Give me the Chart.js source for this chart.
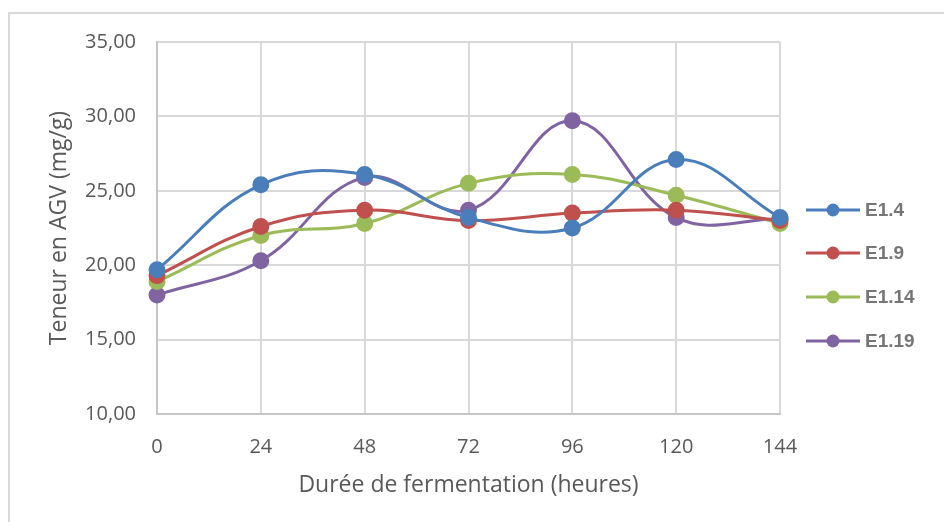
<!DOCTYPE html>
<html>
<head>
<meta charset="utf-8">
<script src="https://cdn.jsdelivr.net/npm/chart.js@4"></script>
<style>
html,body{margin:0;padding:0;background:#fff;overflow:hidden;}
#wrap{position:relative;width:944px;height:522px;}
#frame{position:absolute;left:8px;top:12px;width:1000px;height:600px;border-left:2px solid #d9d9d9;border-top:2px solid #d9d9d9;box-sizing:border-box;}
canvas{position:absolute;left:0;top:0;}
</style>
</head>
<body>
<div id="wrap">
<div id="frame"></div>
<canvas id="c" width="944" height="522"></canvas>
</div>
<script>
const hours = ['0','24','48','72','96','120','144'];
const seriesNames = ['E1.4','E1.9','E1.14','E1.19'];
const e1_4  = [19.7, 25.4, 26.1, 23.2, 22.5, 27.1, 23.2];
const e1_9  = [19.3, 22.6, 23.7, 23.0, 23.5, 23.7, 23.0];
const e1_14 = [18.9, 22.0, 22.8, 25.5, 26.1, 24.7, 22.8];
const e1_19 = [18.0, 20.3, 25.9, 23.7, 29.7, 23.2, 23.1];
const yTicks = [10, 15, 20, 25, 30, 35];
const colors = ['#4a7ebb', '#c0504d', '#9bbb59', '#8064a2'];

const seriesData = [e1_4, e1_9, e1_14, e1_19];
const datasets = seriesData.map((d, i) => ({
  label: seriesNames[i],
  data: d,
  borderColor: colors[i],
  backgroundColor: colors[i],
  pointBackgroundColor: colors[i],
  pointBorderColor: colors[i],
  borderWidth: 3,
  pointRadius: 7,
  pointHoverRadius: 7,
  tension: 0.4,
  fill: false
}));

const legendPlugin = {
  id: 'customLegend',
  afterDraw(chart) {
    const ctx = chart.ctx;
    const x0 = 806, x1 = 860, cx = 833, tx = 865;
    const ys = [210, 253, 297, 341];
    chart.data.datasets.forEach((ds, i) => {
      const y = ys[i];
      ctx.save();
      ctx.strokeStyle = ds.borderColor;
      ctx.lineWidth = 3;
      ctx.beginPath();
      ctx.moveTo(x0, y); ctx.lineTo(x1, y);
      ctx.stroke();
      ctx.fillStyle = ds.borderColor;
      ctx.beginPath();
      ctx.arc(cx, y, 6.5, 0, Math.PI * 2);
      ctx.fill();
      ctx.fillStyle = '#767676';
      ctx.font = 'bold 19px "Liberation Sans", Arial, sans-serif';
      ctx.textBaseline = 'middle';
      ctx.textAlign = 'left';
      ctx.fillText(ds.label, tx, y + 1);
      ctx.restore();
    });
  }
};

new Chart(document.getElementById('c'), {
  type: 'line',
  data: { labels: hours, datasets: datasets },
  options: {
    responsive: false,
    animation: false,
    devicePixelRatio: 1,
    layout: { padding: { left: 0, right: 164, top: 42, bottom: 0 } },
    plugins: { legend: { display: false }, tooltip: { enabled: false } },
    scales: {
      x: {
        type: 'category',
        offset: false,
        grid: { color: '#d9d9d9', lineWidth: 2, drawTicks: false },
        border: { color: '#c6c6c6', width: 2 },
        ticks: { color: '#595959', font: { family: '"Open Sans", sans-serif', size: 20 }, padding: 21, maxRotation: 0 },
        title: { display: true, text: 'Durée de fermentation (heures)', color: '#595959',
                 font: { family: '"Open Sans", sans-serif', size: 23 }, padding: { top: 0, bottom: 23 } },
        afterFit(scale) { scale.height = 108; }
      },
      y: {
        min: 10, max: 35,
        afterBuildTicks(scale) { scale.ticks = yTicks.map(v => ({ value: v })); },
        grid: { color: '#d9d9d9', lineWidth: 2, drawTicks: false },
        border: { color: '#c6c6c6', width: 2 },
        ticks: { color: '#595959', font: { family: '"Open Sans", sans-serif', size: 20 }, padding: 21,
                 callback: v => v.toFixed(2).replace('.', ',') },
        title: { display: true, text: 'Teneur en AGV (mg/g)', color: '#595959',
                 font: { family: '"Open Sans", sans-serif', size: 23 }, padding: { top: 46, bottom: 0 } },
        afterFit(scale) { scale.width = 157; }
      }
    }
  },
  plugins: [legendPlugin]
});
</script>
</body>
</html>
